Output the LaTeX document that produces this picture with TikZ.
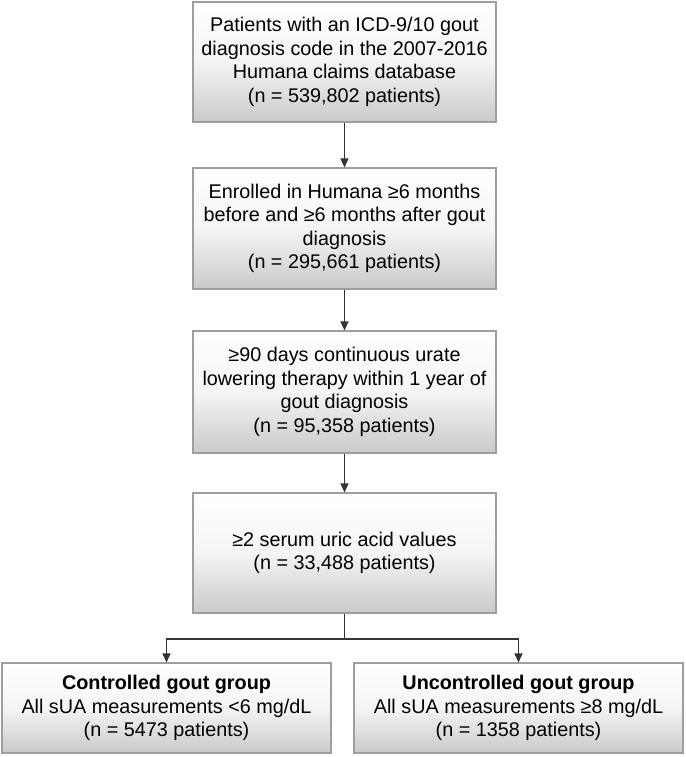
\documentclass[tikz,border=0pt]{standalone}
\usepackage{fontspec}
\setmainfont{Liberation Sans}
\usetikzlibrary{arrows.meta,calc}

\tikzset{
  stagebox/.style={draw=black!38, line width=1.1pt, top color=white, bottom color=black!21,
    middle color=black!4, align=center, inner sep=0pt,
    font=\fontsize{19.8}{23.5}\selectfont},
  flowarrow/.style={draw=black!80, line width=1.3pt, -{Triangle[width=8pt,length=9pt]}},
  flowline/.style={draw=black!80, line width=1.3pt}
}

\begin{document}
\begin{tikzpicture}[x=1pt,y=-1pt]
            \useasboundingbox (0,0) rectangle (685,757);

            % cohort selection steps
            \node[stagebox, minimum width=303pt, minimum height=120pt] (cohort) at (344.5,62)
              {Patients with an ICD-9/10 gout\\diagnosis code in the 2007-2016\\Humana claims database\\(n = 539,802 patients)};
            \node[stagebox, minimum width=303pt, minimum height=121pt] (enrolled) at (344.5,228.5)
              {Enrolled in Humana ≥6 months\\before and ≥6 months after gout\\diagnosis\\(n = 295,661 patients)};
            \node[stagebox, minimum width=303pt, minimum height=122pt] (therapy) at (344.5,392)
              {≥90 days continuous urate\\lowering therapy within 1 year of\\gout diagnosis\\(n = 95,358 patients)};
            \node[stagebox, minimum width=303pt, minimum height=120pt] (serum) at (344.5,553)
              {≥2 serum uric acid values\\(n = 33,488 patients)};

            % the two groups
            \node[stagebox, minimum width=329pt, minimum height=90pt] (controlled) at (166.5,708)
              {\textbf{Controlled gout group}\\All sUA measurements <6 mg/dL\\(n = 5473 patients)};
            \node[stagebox, minimum width=329pt, minimum height=90pt] (uncontrolled) at (518.5,708)
              {\textbf{Uncontrolled gout group}\\All sUA measurements ≥8 mg/dL\\(n = 1358 patients)};

            \coordinate (split) at (344.5,639);

            \draw[flowarrow] (cohort) -- (enrolled);
            \draw[flowarrow] (enrolled) -- (therapy);
            \draw[flowarrow] (therapy) -- (serum);
            \draw[flowline] (serum) -- (split);
            \draw[flowarrow] (split) -| (controlled);
            \draw[flowarrow] (split) -| (uncontrolled);
          \end{tikzpicture}
\end{document}
